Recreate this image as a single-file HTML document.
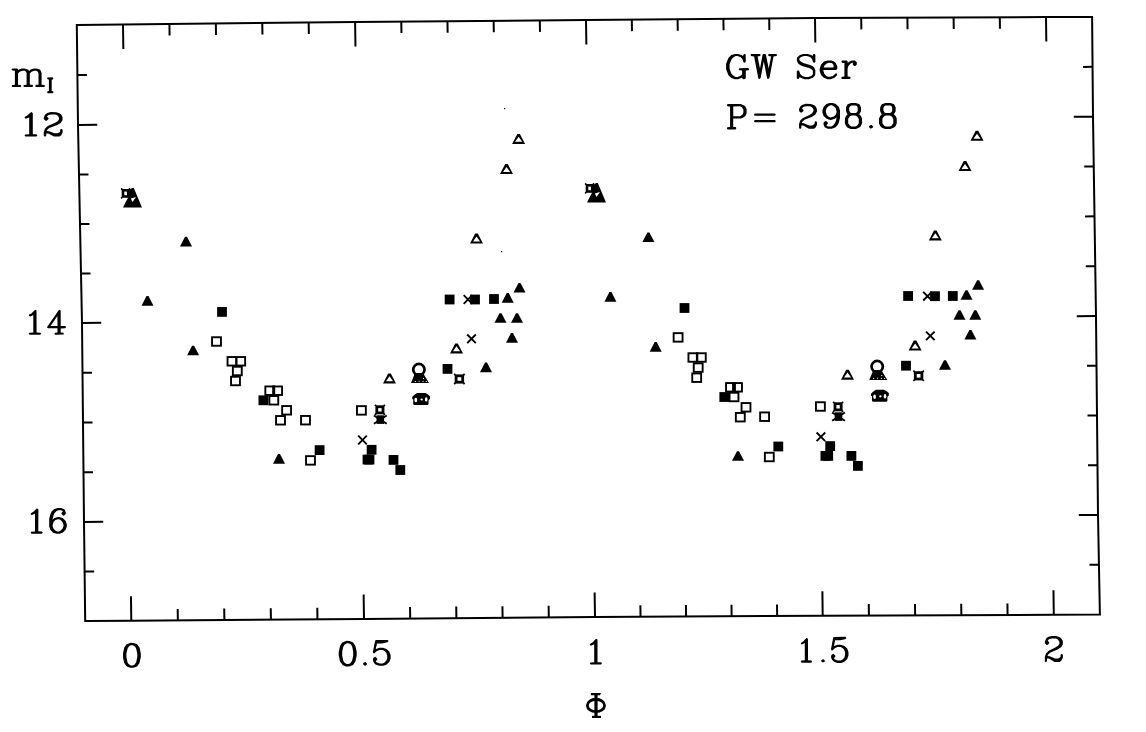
<!DOCTYPE html>
<html><head><meta charset="utf-8"><title>GW Ser light curve</title>
<style>
html,body{margin:0;padding:0;background:#fff;}
body{width:1146px;height:732px;overflow:hidden;font-family:"Liberation Serif",serif;}
svg{display:block;}
</style></head><body>
<svg width="1146" height="732" viewBox="0 0 1146 732">
<rect width="1146" height="732" fill="#fff"/>
<polygon points="76.80,25.00 123.00,24.60 355.10,21.90 586.00,20.00 815.00,18.10 1046.00,17.00 1092.10,17.00 1093.00,116.70 1096.00,316.00 1098.00,514.90 1099.90,614.50 1053.80,614.80 822.70,615.80 595.00,616.90 364.00,618.90 131.30,620.80 85.20,621.00 84.00,522.00 82.00,323.00 80.00,224.00 78.00,125.00" fill="none" stroke="#000" stroke-width="2.0" stroke-linejoin="miter"/>
<path d="M131.30 620.80L130.96 596.30 M123.00 24.60L123.34 49.10 M177.84 620.42L177.68 608.92 M169.42 24.06L169.58 35.56 M224.38 620.04L224.22 608.54 M215.84 23.52L216.00 35.02 M270.92 619.66L270.75 608.16 M262.26 22.98L262.43 34.48 M317.46 619.28L317.29 607.78 M308.68 22.44L308.85 33.94 M364.00 618.90L363.63 594.40 M355.10 21.90L355.47 46.40 M410.20 618.50L410.03 607.00 M401.28 21.52L401.45 33.02 M456.40 618.10L456.23 606.60 M447.46 21.14L447.63 32.64 M502.60 617.70L502.43 606.20 M493.64 20.76L493.81 32.26 M548.80 617.30L548.63 605.80 M539.82 20.38L539.99 31.88 M595.00 616.90L594.63 592.40 M586.00 20.00L586.37 44.50 M640.54 616.68L640.37 605.18 M631.80 19.62L631.97 31.12 M686.08 616.46L685.92 604.96 M677.60 19.24L677.76 30.74 M731.62 616.24L731.46 604.74 M723.40 18.86L723.56 30.36 M777.16 616.02L777.01 604.52 M769.20 18.48L769.35 29.98 M822.70 615.80L822.38 591.30 M815.00 18.10L815.32 42.60 M868.92 615.60L868.77 604.10 M861.20 17.88L861.35 29.38 M915.14 615.40L914.99 603.90 M907.40 17.66L907.55 29.16 M961.36 615.20L961.21 603.70 M953.60 17.44L953.75 28.94 M1007.58 615.00L1007.43 603.50 M999.80 17.22L999.95 28.72 M1053.80 614.80L1053.48 590.30 M1046.00 17.00L1046.32 41.50 M77.40 75.00L86.90 74.92 M1092.55 66.85L1083.05 66.93 M78.00 125.00L97.20 124.84 M1093.00 116.70L1073.80 116.86 M79.00 174.50L88.50 174.43 M1093.75 166.53L1084.25 166.60 M80.00 224.00L89.50 223.93 M1094.50 216.35L1085.00 216.42 M81.00 273.50L90.50 273.43 M1095.25 266.18L1085.75 266.24 M82.00 323.00L101.20 322.87 M1096.00 316.00L1076.80 316.13 M82.50 372.75L92.00 372.68 M1096.50 365.73L1087.00 365.79 M83.00 422.50L92.50 422.43 M1097.00 415.45L1087.50 415.52 M83.50 472.25L93.00 472.18 M1097.50 465.17L1088.00 465.24 M84.00 522.00L103.20 521.87 M1098.00 514.90L1078.80 515.03 M84.60 571.50L94.10 571.44 M1098.95 564.70L1089.45 564.76" stroke="#000" stroke-width="2" fill="none"/>
<path fill-rule="evenodd" d="M31.6 112.1L30.6 112.5L27.3 115.6L25.3 116.4L24.6 117.2L24.7 118.1L25.7 118.7L29.2 117.4L29.2 134.2L25.1 134.5L24.6 135.7L25.5 136.6L36.4 136.6L37.4 135.5L36.4 134.3L32.8 134.2L32.8 113.2Z"/>
<path fill-rule="evenodd" d="M47.3 113.1L45.2 114.6L43.7 117.4L43.8 119.1L45.6 120.7L46.7 120.7L48.5 119.1L48.5 118.1L47.1 116.8L47.1 116.2L48.1 115.3L50.8 114.5L55.2 114.5L56.8 115.1L58.0 116.1L59.0 117.8L59.0 119.3L57.7 121.2L54.6 123.0L47.8 126.0L45.1 128.5L43.7 132.2L43.8 136.0L44.7 136.6L45.6 136.5L46.3 135.5L46.3 133.8L46.7 133.5L48.2 133.5L54.0 136.6L59.4 136.6L61.2 135.2L62.5 132.8L62.7 130.1L61.8 129.1L61.3 129.0L60.2 129.6L60.1 131.9L57.7 133.2L54.4 133.2L49.2 131.2L47.0 131.1L46.9 130.7L47.3 129.7L49.3 127.9L57.3 124.9L60.6 122.9L62.5 120.2L62.5 116.9L61.2 114.6L59.6 113.3L56.2 112.2L50.8 112.1Z"/>
<path fill-rule="evenodd" d="M35.5 309.8L34.6 310.2L31.4 313.4L29.5 314.3L28.9 315.1L29.4 316.3L30.5 316.4L33.3 315.0L33.3 332.4L29.5 332.7L29.0 333.0L28.9 333.9L29.8 334.8L40.0 334.8L40.9 334.2L40.9 333.2L40.4 332.7L36.6 332.4L36.5 310.4Z"/>
<path fill-rule="evenodd" d="M59.8 309.8L58.7 310.3L47.1 327.1L47.2 327.7L48.1 328.3L57.4 328.3L57.5 332.4L55.0 332.7L54.4 333.9L55.2 334.8L63.5 334.5L63.8 333.9L63.5 332.8L60.7 332.4L60.7 328.4L65.0 328.3L65.9 327.7L65.9 326.7L65.2 326.1L60.7 326.0L60.7 310.7ZM57.4 316.1L57.5 326.0L50.6 326.1Z"/>
<path fill-rule="evenodd" d="M37.3 508.4L36.7 508.5L33.5 511.8L31.3 512.9L30.7 513.7L30.8 514.5L31.7 515.1L35.0 513.7L35.0 531.4L31.1 531.8L30.7 532.9L31.6 533.8L41.8 533.8L42.7 532.8L42.6 532.2L41.8 531.5L38.3 531.3L38.4 509.5Z"/>
<path fill-rule="evenodd" d="M61.4 507.9L57.9 507.9L54.2 509.1L51.6 511.6L50.3 514.4L49.2 518.7L49.2 526.3L50.3 529.7L53.2 532.7L56.5 533.8L59.6 533.8L63.0 532.5L65.7 529.8L66.9 525.9L66.9 524.7L65.7 521.0L62.6 518.0L59.2 516.9L58.0 516.9L54.6 518.0L52.5 519.6L53.5 515.4L54.4 513.2L56.6 511.0L58.1 510.3L61.1 510.3L62.7 511.1L62.9 511.5L61.4 513.0L61.3 513.6L62.9 515.6L64.0 515.7L65.7 514.1L65.8 512.4L64.6 509.6ZM58.0 519.2L59.0 519.2L60.8 520.2L62.5 522.0L63.5 524.8L63.5 525.9L62.6 528.6L60.5 530.7L58.8 531.5L57.2 531.5L55.3 530.5L53.5 528.7L52.5 525.7L53.5 522.1L55.4 520.1Z"/>
<path fill-rule="evenodd" d="M11.7 69.0L11.6 69.7L12.2 70.6L14.9 70.8L14.9 84.7L12.2 84.9L11.6 86.0L12.4 87.0L20.5 87.0L21.1 86.4L21.1 85.4L20.7 84.9L18.0 84.7L18.0 73.5L19.7 71.7L22.4 70.7L24.3 70.7L25.8 71.6L26.6 73.1L26.6 84.7L23.9 84.9L23.5 85.5L23.5 86.2L23.9 86.9L32.2 87.0L32.9 86.5L33.0 85.6L32.7 85.0L29.8 84.5L29.8 73.6L31.6 71.7L34.1 70.7L36.1 70.7L37.5 71.4L38.5 73.3L38.5 84.7L36.0 84.8L35.4 85.4L35.4 86.4L36.0 87.0L44.1 87.0L44.8 86.4L44.9 85.8L44.3 84.9L41.6 84.7L41.6 72.9L40.5 70.2L39.8 69.6L36.4 68.4L34.1 68.4L30.7 69.6L29.1 71.1L28.2 69.7L24.6 68.4L21.8 68.5L18.8 69.6L18.1 70.2L17.9 69.0L17.0 68.4L12.6 68.4Z"/>
<path fill-rule="evenodd" d="M47.7 77.4L47.2 77.9L47.2 79.0L48.9 79.8L48.9 90.9L47.7 91.2L47.2 91.7L47.2 92.7L47.9 93.3L52.6 93.3L53.3 92.8L53.4 91.9L53.0 91.3L51.7 90.9L51.7 79.8L52.8 79.5L53.4 78.2L52.5 77.3Z"/>
<path fill-rule="evenodd" d="M130.6 642.8L126.4 644.4L124.3 647.6L123.0 653.2L123.0 657.5L124.1 662.8L126.3 666.0L127.3 666.8L130.2 667.8L133.4 667.8L137.1 666.4L139.4 663.2L140.8 657.2L140.8 653.4L139.5 647.6L137.5 644.7L136.6 643.9L133.5 642.9ZM131.0 645.2L132.8 645.2L135.2 646.7L136.3 648.9L137.3 653.9L137.3 656.8L136.2 662.2L134.4 664.7L132.6 665.5L130.7 665.4L128.3 663.7L127.4 661.9L126.4 657.1L126.4 653.5L127.6 648.4L129.2 646.0Z"/>
<path fill-rule="evenodd" d="M346.6 640.8L342.3 642.4L340.1 645.8L338.7 652.0L338.7 655.3L339.9 661.3L342.8 665.3L346.1 666.4L349.3 666.4L353.1 664.9L355.4 661.4L356.7 655.6L356.7 651.7L355.4 645.9L353.3 642.7L352.3 641.9L349.3 640.9ZM346.8 643.2L348.6 643.2L350.3 644.0L351.3 645.0L352.2 646.8L353.2 651.6L353.2 655.7L352.1 660.8L350.3 663.3L348.6 664.1L346.6 664.0L344.3 662.5L343.2 660.4L342.2 655.6L342.2 651.7L343.2 646.9L344.2 644.9Z"/>
<path fill-rule="evenodd" d="M364.9 662.0L363.2 663.2L362.9 664.0L364.3 665.6L365.2 665.8L366.9 664.6L367.1 663.7L365.6 662.1Z"/>
<path fill-rule="evenodd" d="M375.7 640.0L375.0 641.3L372.9 651.8L373.0 652.8L374.2 653.5L376.9 651.0L379.5 650.1L382.7 650.1L384.5 651.1L386.3 652.8L387.2 655.7L387.2 657.9L386.4 660.6L384.3 662.7L382.6 663.5L379.8 663.5L376.8 662.5L375.7 661.2L377.2 659.7L377.3 658.7L375.5 656.8L374.5 656.9L373.0 658.4L373.0 660.8L374.1 663.0L375.5 664.4L379.2 665.8L383.3 665.8L386.3 664.8L389.5 661.8L390.6 658.6L390.7 655.6L389.3 651.6L386.6 649.0L383.0 647.7L379.5 647.7L376.0 649.0L375.8 648.6L377.1 643.4L382.0 643.4L387.5 642.3L388.3 641.6L388.3 640.5L387.5 639.9Z"/>
<path fill-rule="evenodd" d="M596.8 639.0L595.8 639.1L592.5 642.5L590.4 643.5L589.8 644.5L589.9 645.1L591.0 645.7L594.2 644.2L594.2 662.2L590.4 662.5L589.8 663.5L590.7 664.6L601.0 664.6L601.9 663.6L601.8 663.0L601.0 662.3L597.5 662.2L597.5 639.7Z"/>
<path fill-rule="evenodd" d="M807.0 637.9L806.3 638.0L803.2 641.4L800.9 642.9L801.0 644.0L801.8 644.5L804.8 643.1L804.8 660.3L801.4 660.6L800.8 661.6L801.6 662.7L811.1 662.7L811.9 661.9L811.9 661.2L811.4 660.6L808.0 660.3L808.0 638.9Z"/>
<path fill-rule="evenodd" d="M822.9 659.2L821.3 660.2L821.0 660.9L822.3 662.3L823.2 662.5L824.8 661.5L825.0 660.7L823.5 659.3Z"/>
<path fill-rule="evenodd" d="M833.9 636.9L833.2 637.8L831.0 649.0L831.1 649.8L831.8 650.5L832.4 650.5L835.1 648.0L837.6 647.1L840.7 647.1L842.5 648.1L844.2 649.8L845.1 652.6L845.1 655.1L844.3 657.7L842.3 659.8L840.6 660.6L837.7 660.6L835.0 659.6L833.9 658.2L835.3 656.7L835.3 655.5L833.3 653.8L832.7 653.9L831.1 655.5L831.1 657.8L832.2 660.0L833.8 661.6L837.1 662.9L841.3 662.9L844.4 661.8L847.3 658.9L848.5 655.3L848.5 652.3L847.2 648.6L844.5 646.0L840.9 644.7L837.5 644.7L834.0 646.0L835.1 640.3L840.2 640.3L845.0 639.3L846.2 638.5L846.2 637.4L845.2 636.8Z"/>
<path fill-rule="evenodd" d="M1047.9 637.1L1046.2 638.6L1044.8 641.5L1044.9 643.3L1046.5 645.0L1047.9 644.7L1049.3 643.1L1049.0 642.0L1047.7 640.7L1048.9 639.2L1051.5 638.4L1055.9 638.4L1057.6 639.2L1059.4 641.8L1059.4 643.7L1058.3 645.6L1055.3 647.6L1048.7 650.8L1046.0 653.4L1044.8 656.9L1044.9 661.4L1045.7 661.9L1046.5 661.8L1047.0 661.1L1047.0 659.0L1047.5 658.5L1048.9 658.5L1054.6 661.9L1059.8 661.9L1061.4 660.5L1062.9 657.5L1062.9 655.0L1062.0 654.0L1061.4 654.0L1060.6 654.7L1060.5 656.9L1058.0 658.5L1055.1 658.5L1049.8 656.3L1047.5 656.0L1048.0 654.7L1050.0 652.7L1057.5 649.6L1061.1 647.2L1062.8 644.5L1062.8 641.1L1061.6 638.9L1060.3 637.5L1056.3 636.0L1051.5 636.0Z"/>
<ellipse cx="595.95" cy="705.45" rx="8.6" ry="6.2" fill="none" stroke="#000" stroke-width="2.8"/>
<rect x="594.4" y="693.5" width="3.2" height="24"/>
<path d="M590.9 693L601 693L600 695.2L590.9 695.2Z"/>
<rect x="592" y="715.8" width="9" height="2.2"/>
<path fill-rule="evenodd" d="M731.3 55.1L728.4 57.9L726.1 63.7L726.1 69.3L728.4 75.2L731.4 78.1L734.8 79.2L738.1 79.2L741.9 77.8L743.0 79.2L745.1 79.1L745.8 78.1L745.8 70.6L748.5 70.3L749.2 69.5L749.0 68.7L748.0 68.1L739.3 68.3L738.7 69.5L739.4 70.3L742.1 70.6L742.1 74.3L740.2 76.1L737.4 76.9L735.7 76.9L733.8 76.1L731.7 74.1L730.8 72.3L729.6 69.0L729.6 64.1L731.6 59.3L733.5 57.3L735.7 56.1L737.3 56.1L740.4 57.1L742.4 59.0L743.4 62.1L744.2 62.7L745.1 62.6L745.8 61.6L745.7 54.5L744.7 53.9L744.0 54.0L742.8 56.1L741.5 55.0L738.1 53.9L735.0 53.9Z"/>
<path fill-rule="evenodd" d="M751.2 54.0L750.6 54.6L750.9 55.9L754.1 56.5L758.3 78.3L759.1 78.9L759.7 78.9L760.6 78.0L763.8 61.6L767.1 78.3L767.8 78.9L768.8 78.8L769.5 77.8L773.5 56.4L776.4 56.1L777.1 55.3L776.9 54.5L775.9 53.9L769.2 53.9L768.2 54.6L768.2 55.5L768.8 56.1L771.1 56.4L768.7 68.6L765.9 54.5L764.9 53.9L763.3 54.0L762.6 54.8L760.0 68.4L757.6 56.4L760.1 56.0L760.6 55.1L760.4 54.4L759.5 53.9Z"/>
<path fill-rule="evenodd" d="M814.7 54.0L813.5 54.0L812.4 56.1L811.3 55.1L807.7 53.9L803.3 53.9L799.9 55.0L796.9 57.8L796.9 61.1L798.2 63.5L799.4 64.6L802.0 66.0L809.0 68.1L811.1 69.1L812.9 70.8L812.9 74.3L811.2 75.9L808.2 76.9L805.2 76.9L802.3 76.1L800.2 74.1L799.2 71.0L798.2 70.3L797.5 70.5L796.8 71.5L796.8 78.2L797.5 79.1L798.6 79.1L799.8 76.9L800.6 77.8L804.5 79.2L808.8 79.2L812.8 77.8L815.2 75.3L815.4 70.2L814.1 67.6L812.5 66.1L809.9 64.9L803.3 62.9L801.0 61.7L799.3 60.1L799.3 58.8L801.0 57.1L804.1 56.1L806.9 56.1L810.0 57.1L812.0 59.0L813.0 62.1L813.8 62.7L814.5 62.7L815.4 61.7L815.4 55.0Z"/>
<path fill-rule="evenodd" d="M827.6 60.4L824.0 61.6L821.1 64.4L819.7 68.6L819.7 71.0L821.0 75.1L823.8 77.8L827.4 79.2L830.7 79.2L834.5 77.7L837.0 75.2L837.0 73.7L836.1 73.2L835.6 73.4L832.8 75.9L830.1 76.8L828.2 76.8L826.4 75.9L824.3 73.7L823.4 71.1L823.4 69.9L836.1 69.9L837.3 68.7L837.3 66.2L835.7 63.0L834.1 61.6L831.5 60.4ZM823.9 66.9L824.3 65.8L826.4 63.7L828.4 62.8L831.2 62.9L832.5 63.6L833.6 65.3L833.5 67.4L824.0 67.4Z"/>
<path fill-rule="evenodd" d="M842.2 60.4L841.5 60.9L841.4 62.1L842.5 62.9L844.4 63.0L844.4 76.4L841.9 76.7L841.4 77.2L841.4 78.2L842.1 78.9L849.9 78.9L850.7 77.7L850.1 76.7L847.6 76.4L847.6 68.7L848.4 65.9L850.4 63.7L852.1 62.7L852.9 62.7L852.8 64.6L854.1 66.0L855.3 66.1L856.8 64.4L856.8 62.2L854.9 60.4L851.5 60.4L849.1 61.7L847.7 63.1L847.6 61.2L846.8 60.4Z"/>
<path fill-rule="evenodd" d="M727.8 104.1L727.0 104.7L727.0 105.7L728.1 106.5L730.1 106.6L730.1 127.0L727.5 127.3L727.0 127.8L727.0 128.8L727.7 129.4L735.4 129.4L736.3 128.6L736.1 127.6L735.4 127.1L733.2 127.0L733.2 118.5L740.8 118.4L743.9 117.3L745.5 115.7L746.6 113.4L746.6 109.1L745.3 106.6L744.3 105.6L740.7 104.1ZM733.2 106.5L740.0 106.3L741.9 107.3L743.4 109.8L743.4 112.7L742.6 114.4L740.1 116.2L733.3 116.2Z"/>
<path fill-rule="evenodd" d="M754.0 121.1L754.1 121.7L754.9 122.3L775.0 122.3L775.9 121.2L775.0 120.1L754.9 120.1ZM754.0 114.6L754.1 115.2L754.9 115.8L774.9 115.8L775.9 114.7L775.0 113.6L754.9 113.6Z"/>
<path fill-rule="evenodd" d="M802.1 104.9L800.4 106.3L799.0 109.0L799.1 111.0L800.5 112.4L801.8 112.5L803.5 110.9L803.5 109.9L802.0 108.4L803.1 107.0L805.7 106.2L810.0 106.2L811.6 106.9L812.6 107.9L813.5 109.6L813.5 111.1L812.1 113.2L809.5 114.9L803.0 118.0L800.4 120.3L799.0 123.9L799.1 128.3L799.9 128.8L800.8 128.7L801.3 127.9L801.3 126.0L801.8 125.5L803.1 125.5L808.8 128.8L814.1 128.7L815.6 127.4L817.0 124.7L817.0 122.2L816.2 121.2L815.3 121.2L814.7 121.8L814.5 124.1L812.2 125.4L809.1 125.4L804.0 123.3L801.8 123.1L802.2 121.9L804.4 119.8L811.6 117.0L815.2 114.7L817.0 111.6L816.8 108.8L815.7 106.5L814.3 105.2L810.8 103.9L805.7 103.8Z"/>
<path fill-rule="evenodd" d="M832.7 103.0L829.7 103.0L826.4 104.1L823.6 106.9L822.4 110.3L822.4 112.5L823.6 116.0L826.7 118.8L830.1 119.9L831.7 119.8L834.9 118.7L836.7 117.2L835.7 121.4L834.7 123.5L832.7 125.7L831.2 126.4L828.1 126.5L826.4 125.5L827.9 123.4L827.8 122.5L826.4 121.2L825.5 120.9L823.6 122.5L823.5 124.5L824.7 127.2L827.6 128.8L831.7 128.8L835.2 127.4L837.7 124.9L838.8 122.7L840.0 117.9L840.0 110.5L838.9 107.1L835.9 104.1ZM831.9 105.2L834.0 106.4L835.6 108.0L836.7 111.7L835.7 114.7L833.9 116.6L830.3 117.6L828.6 116.7L826.7 114.7L825.7 111.1L826.7 108.1L828.5 106.2L830.5 105.2Z"/>
<path fill-rule="evenodd" d="M851.1 103.0L847.6 104.2L846.1 106.9L846.0 111.1L847.0 113.6L847.7 114.3L846.2 115.7L844.9 118.6L844.9 123.5L846.1 126.1L847.7 127.8L850.8 128.9L856.0 128.9L859.8 127.3L860.9 126.0L862.1 123.3L862.0 118.2L860.9 115.9L859.2 114.3L860.9 111.5L861.0 107.5L859.8 104.7L859.0 104.1L855.8 103.0ZM851.5 115.4L855.4 115.4L857.2 116.4L858.8 118.9L858.8 123.2L857.0 125.8L855.3 126.6L851.3 126.5L849.8 125.6L848.2 123.3L848.2 118.8L849.9 116.3ZM849.9 106.4L851.4 105.4L855.4 105.4L856.9 106.1L857.7 107.7L857.7 110.7L857.0 112.2L855.6 113.1L851.4 113.1L850.2 112.5L849.2 110.6L849.2 107.9Z"/>
<path fill-rule="evenodd" d="M870.9 125.0L869.2 126.1L868.9 126.9L870.3 128.4L871.2 128.6L872.9 127.5L873.1 126.6L871.6 125.1Z"/>
<path fill-rule="evenodd" d="M885.4 103.0L881.8 104.2L880.2 106.9L880.1 111.1L881.2 113.6L881.9 114.3L880.3 115.7L879.0 118.6L879.0 123.5L880.2 126.1L881.9 127.8L885.1 128.9L890.5 128.9L894.4 127.3L895.6 126.0L896.8 123.3L896.7 118.2L895.6 115.9L893.8 114.3L895.6 111.5L895.7 107.5L894.4 104.7L893.6 104.1L890.3 103.0ZM885.9 115.4L889.9 115.4L891.8 116.4L893.3 118.9L893.3 123.2L891.5 125.8L889.8 126.6L885.6 126.5L884.0 125.6L882.4 123.3L882.4 118.8L884.1 116.3ZM884.1 106.4L885.7 105.4L889.9 105.4L891.4 106.1L892.2 107.7L892.2 110.7L891.5 112.2L890.0 113.1L885.7 113.1L884.5 112.5L883.4 110.6L883.4 107.9Z"/>
<g fill="#000">
<path d="M180.00 246.40L192.00 246.40L187.00 236.80L185.00 236.80Z"/>
<path d="M141.50 305.70L153.50 305.70L148.50 296.10L146.50 296.10Z"/>
<path d="M187.10 355.30L199.10 355.30L194.10 345.70L192.10 345.70Z"/>
<path d="M273.00 463.70L285.00 463.70L280.00 454.10L278.00 454.10Z"/>
<path d="M480.00 372.20L492.00 372.20L487.00 362.60L485.00 362.60Z"/>
<path d="M501.70 302.70L513.70 302.70L508.70 293.10L506.70 293.10Z"/>
<path d="M513.50 292.60L525.50 292.60L520.50 283.00L518.50 283.00Z"/>
<path d="M494.50 322.80L506.50 322.80L501.50 313.20L499.50 313.20Z"/>
<path d="M511.00 322.80L523.00 322.80L518.00 313.20L516.00 313.20Z"/>
<path d="M506.00 342.70L518.00 342.70L513.00 333.10L511.00 333.10Z"/>
<path d="M642.40 242.10L654.40 242.10L649.40 232.50L647.40 232.50Z"/>
<path d="M604.40 301.70L616.40 301.70L611.40 292.10L609.40 292.10Z"/>
<path d="M649.70 351.70L661.70 351.70L656.70 342.10L654.70 342.10Z"/>
<path d="M732.00 460.80L744.00 460.80L739.00 451.20L737.00 451.20Z"/>
<path d="M939.00 369.80L951.00 369.80L946.00 360.20L944.00 360.20Z"/>
<path d="M960.50 299.80L972.50 299.80L967.50 290.20L965.50 290.20Z"/>
<path d="M972.10 289.80L984.10 289.80L979.10 280.20L977.10 280.20Z"/>
<path d="M953.50 319.80L965.50 319.80L960.50 310.20L958.50 310.20Z"/>
<path d="M969.30 319.80L981.30 319.80L976.30 310.20L974.30 310.20Z"/>
<path d="M964.40 339.60L976.40 339.60L971.40 330.00L969.40 330.00Z"/>
<path fill-rule="evenodd" d="M383.00 383.40L396.00 383.40L390.80 373.40L388.20 373.40Z M386.00 381.30L393.10 381.30L389.50 376.30Z"/>
<path fill-rule="evenodd" d="M450.00 353.40L463.00 353.40L457.80 343.40L455.20 343.40Z M453.00 351.30L460.10 351.30L456.50 346.30Z"/>
<path fill-rule="evenodd" d="M470.00 243.60L483.00 243.60L477.80 233.60L475.20 233.60Z M473.00 241.50L480.10 241.50L476.50 236.50Z"/>
<path fill-rule="evenodd" d="M500.00 174.00L513.00 174.00L507.80 164.00L505.20 164.00Z M503.00 171.90L510.10 171.90L506.50 166.90Z"/>
<path fill-rule="evenodd" d="M512.10 143.90L525.10 143.90L519.90 133.90L517.30 133.90Z M515.10 141.80L522.20 141.80L518.60 136.80Z"/>
<path fill-rule="evenodd" d="M841.00 379.70L854.00 379.70L848.80 369.70L846.20 369.70Z M844.00 377.60L851.10 377.60L847.50 372.60Z"/>
<path fill-rule="evenodd" d="M908.60 350.50L921.60 350.50L916.40 340.50L913.80 340.50Z M911.60 348.40L918.70 348.40L915.10 343.40Z"/>
<path fill-rule="evenodd" d="M928.80 240.40L941.80 240.40L936.60 230.40L934.00 230.40Z M931.80 238.30L938.90 238.30L935.30 233.30Z"/>
<path fill-rule="evenodd" d="M958.50 171.00L971.50 171.00L966.30 161.00L963.70 161.00Z M961.50 168.90L968.60 168.90L965.00 163.90Z"/>
<path fill-rule="evenodd" d="M970.50 140.80L983.50 140.80L978.30 130.80L975.70 130.80Z M973.50 138.70L980.60 138.70L977.00 133.70Z"/>
<rect x="217.10" y="307.00" width="9.80" height="9.80"/>
<rect x="258.50" y="395.40" width="9.80" height="9.80"/>
<rect x="314.70" y="445.20" width="9.80" height="9.80"/>
<rect x="366.70" y="444.90" width="9.80" height="9.80"/>
<rect x="362.60" y="454.70" width="9.80" height="9.80"/>
<rect x="364.60" y="454.70" width="9.80" height="9.80"/>
<rect x="388.60" y="455.00" width="9.80" height="9.80"/>
<rect x="395.40" y="465.10" width="9.80" height="9.80"/>
<rect x="442.60" y="364.00" width="9.80" height="9.80"/>
<rect x="444.70" y="294.60" width="9.80" height="9.80"/>
<rect x="470.10" y="294.60" width="9.80" height="9.80"/>
<rect x="489.10" y="294.10" width="9.80" height="9.80"/>
<rect x="679.60" y="303.10" width="9.80" height="9.80"/>
<rect x="719.40" y="392.10" width="9.80" height="9.80"/>
<rect x="773.40" y="441.60" width="9.80" height="9.80"/>
<rect x="825.30" y="441.20" width="9.80" height="9.80"/>
<rect x="820.50" y="451.00" width="9.80" height="9.80"/>
<rect x="823.30" y="451.00" width="9.80" height="9.80"/>
<rect x="846.50" y="451.00" width="9.80" height="9.80"/>
<rect x="853.00" y="461.00" width="9.80" height="9.80"/>
<rect x="901.10" y="360.80" width="9.80" height="9.80"/>
<rect x="903.20" y="291.10" width="9.80" height="9.80"/>
<rect x="930.10" y="291.30" width="9.80" height="9.80"/>
<rect x="947.90" y="291.10" width="9.80" height="9.80"/>
<rect x="212.05" y="337.25" width="8.90" height="8.50" fill="none" stroke="#000" stroke-width="1.90"/>
<rect x="227.55" y="357.05" width="8.90" height="8.50" fill="none" stroke="#000" stroke-width="1.90"/>
<rect x="236.25" y="357.05" width="8.90" height="8.50" fill="none" stroke="#000" stroke-width="1.90"/>
<rect x="232.85" y="366.75" width="8.90" height="8.50" fill="none" stroke="#000" stroke-width="1.90"/>
<rect x="231.05" y="376.75" width="8.90" height="8.50" fill="none" stroke="#000" stroke-width="1.90"/>
<rect x="265.35" y="386.45" width="8.90" height="8.50" fill="none" stroke="#000" stroke-width="1.90"/>
<rect x="273.15" y="386.45" width="8.90" height="8.50" fill="none" stroke="#000" stroke-width="1.90"/>
<rect x="269.35" y="396.05" width="8.90" height="8.50" fill="none" stroke="#000" stroke-width="1.90"/>
<rect x="282.15" y="406.05" width="8.90" height="8.50" fill="none" stroke="#000" stroke-width="1.90"/>
<rect x="276.05" y="416.05" width="8.90" height="8.50" fill="none" stroke="#000" stroke-width="1.90"/>
<rect x="301.05" y="415.95" width="8.90" height="8.50" fill="none" stroke="#000" stroke-width="1.90"/>
<rect x="306.05" y="456.15" width="8.90" height="8.50" fill="none" stroke="#000" stroke-width="1.90"/>
<rect x="356.95" y="406.15" width="8.90" height="8.50" fill="none" stroke="#000" stroke-width="1.90"/>
<rect x="673.65" y="333.15" width="8.90" height="8.50" fill="none" stroke="#000" stroke-width="1.90"/>
<rect x="688.45" y="353.25" width="8.90" height="8.50" fill="none" stroke="#000" stroke-width="1.90"/>
<rect x="696.85" y="353.25" width="8.90" height="8.50" fill="none" stroke="#000" stroke-width="1.90"/>
<rect x="693.75" y="363.35" width="8.90" height="8.50" fill="none" stroke="#000" stroke-width="1.90"/>
<rect x="692.25" y="373.45" width="8.90" height="8.50" fill="none" stroke="#000" stroke-width="1.90"/>
<rect x="726.05" y="383.05" width="8.90" height="8.50" fill="none" stroke="#000" stroke-width="1.90"/>
<rect x="733.05" y="383.05" width="8.90" height="8.50" fill="none" stroke="#000" stroke-width="1.90"/>
<rect x="729.55" y="392.75" width="8.90" height="8.50" fill="none" stroke="#000" stroke-width="1.90"/>
<rect x="741.55" y="403.05" width="8.90" height="8.50" fill="none" stroke="#000" stroke-width="1.90"/>
<rect x="735.85" y="412.95" width="8.90" height="8.50" fill="none" stroke="#000" stroke-width="1.90"/>
<rect x="760.15" y="412.45" width="8.90" height="8.50" fill="none" stroke="#000" stroke-width="1.90"/>
<rect x="764.85" y="452.75" width="8.90" height="8.50" fill="none" stroke="#000" stroke-width="1.90"/>
<rect x="815.95" y="402.25" width="8.90" height="8.50" fill="none" stroke="#000" stroke-width="1.90"/>
<path d="M358.20 435.70L366.80 444.30M358.20 444.30L366.80 435.70" stroke="#000" stroke-width="1.90" fill="none"/>
<path d="M467.20 334.50L475.80 343.10M467.20 343.10L475.80 334.50" stroke="#000" stroke-width="1.90" fill="none"/>
<path d="M463.70 295.20L472.30 303.80M463.70 303.80L472.30 295.20" stroke="#000" stroke-width="1.90" fill="none"/>
<path d="M816.60 432.50L825.20 441.10M816.60 441.10L825.20 432.50" stroke="#000" stroke-width="1.90" fill="none"/>
<path d="M926.00 331.60L934.60 340.20M926.00 340.20L934.60 331.60" stroke="#000" stroke-width="1.90" fill="none"/>
<path d="M923.20 291.90L931.80 300.50M923.20 300.50L931.80 291.90" stroke="#000" stroke-width="1.90" fill="none"/>
<path d="M123.00 207.60 L142.00 207.60 L133.80 188.00 L132.20 188.00 L129.00 190.00 L127.60 193.50 L128.20 197.50 L125.50 202.50 Z"/>
<path fill="#fff" d="M130.80 198.40 L136.00 197.00 L132.60 202.00 Z"/>
<rect x="123.00" y="190.30" width="5.20" height="6.20" fill="none" stroke="#000" stroke-width="2.60"/>
<path d="M122.30 189.60L121.10 188.40M128.90 189.60L130.10 188.40M122.30 197.20L121.10 198.40M128.90 197.20L130.10 198.40" stroke="#000" stroke-width="1.50" fill="none"/>
<rect x="376.80" y="406.70" width="6.20" height="6.20" fill="none" stroke="#000" stroke-width="2.80"/>
<path d="M376.00 405.90L374.90 404.80M383.80 405.90L384.90 404.80M376.00 413.70L374.90 414.80M383.80 413.70L384.90 414.80" stroke="#000" stroke-width="1.80" fill="none"/>
<rect x="376.50" y="415.30" width="7.60" height="8.60"/>
<path d="M373.90 415.50L386.70 423.70M373.90 423.70L386.70 415.50" stroke="#000" stroke-width="1.90" fill="none"/>
<rect x="456.10" y="375.80" width="6.60" height="6.40" fill="none" stroke="#000" stroke-width="2.80"/>
<path d="M455.30 375.00L454.20 373.90M463.50 375.00L464.60 373.90M455.30 383.00L454.20 384.10M463.50 383.00L464.60 384.10" stroke="#000" stroke-width="1.80" fill="none"/>
<circle cx="418.90" cy="369.60" r="5.65" fill="none" stroke="#000" stroke-width="2.70"/>
<path d="M411.00 383.00 L429.00 383.00 L423.00 373.00 L415.00 373.00 Z"/>
<rect fill="#fff" x="414.80" y="381.00" width="1" height="1"/>
<rect fill="#fff" x="418.60" y="380.80" width="1" height="1"/>
<rect fill="#fff" x="422.60" y="380.90" width="1" height="1"/>
<rect fill="#fff" x="425.80" y="381.00" width="1" height="1"/>
<rect fill="#fff" x="423.00" y="378.00" width="1" height="1"/>
<path d="M417.00 392.90 L425.20 392.90 L427.60 394.20 L430.00 396.30 L430.00 399.00 L428.60 400.00 L428.60 404.00 L427.90 405.00 L413.90 405.00 L413.20 404.00 L413.20 399.50 L412.20 399.00 L412.20 397.00 L413.90 395.30 Z"/>
<ellipse fill="#fff" cx="415.80" cy="400.00" rx="1.40" ry="2.20"/>
<ellipse fill="#fff" cx="426.20" cy="399.40" rx="1.30" ry="2.20"/>
<ellipse fill="#fff" cx="421.60" cy="399.50" rx="1.20" ry="1.10"/>
<path d="M587.00 202.60 L606.00 202.60 L597.80 183.00 L596.20 183.00 L593.00 185.00 L591.60 188.50 L592.20 192.50 L589.50 197.50 Z"/>
<path fill="#fff" d="M594.80 193.40 L600.00 192.00 L596.60 197.00 Z"/>
<rect x="587.00" y="185.30" width="5.20" height="6.20" fill="none" stroke="#000" stroke-width="2.60"/>
<path d="M586.30 184.60L585.10 183.40M592.90 184.60L594.10 183.40M586.30 192.20L585.10 193.40M592.90 192.20L594.10 193.40" stroke="#000" stroke-width="1.50" fill="none"/>
<rect x="835.00" y="403.70" width="6.20" height="6.20" fill="none" stroke="#000" stroke-width="2.80"/>
<path d="M834.20 402.90L833.10 401.80M842.00 402.90L843.10 401.80M834.20 410.70L833.10 411.80M842.00 410.70L843.10 411.80" stroke="#000" stroke-width="1.80" fill="none"/>
<rect x="834.70" y="412.30" width="7.60" height="8.60"/>
<path d="M832.10 412.50L844.90 420.70M832.10 420.70L844.90 412.50" stroke="#000" stroke-width="1.90" fill="none"/>
<rect x="915.30" y="372.60" width="6.60" height="6.40" fill="none" stroke="#000" stroke-width="2.80"/>
<path d="M914.50 371.80L913.40 370.70M922.70 371.80L923.80 370.70M914.50 379.80L913.40 380.90M922.70 379.80L923.80 380.90" stroke="#000" stroke-width="1.80" fill="none"/>
<circle cx="877.20" cy="366.60" r="5.65" fill="none" stroke="#000" stroke-width="2.70"/>
<path d="M869.30 380.00 L887.30 380.00 L881.30 370.00 L873.30 370.00 Z"/>
<rect fill="#fff" x="873.10" y="378.00" width="1" height="1"/>
<rect fill="#fff" x="876.90" y="377.80" width="1" height="1"/>
<rect fill="#fff" x="880.90" y="377.90" width="1" height="1"/>
<rect fill="#fff" x="884.10" y="378.00" width="1" height="1"/>
<rect fill="#fff" x="881.30" y="375.00" width="1" height="1"/>
<path d="M875.80 389.70 L884.00 389.70 L886.40 391.00 L888.80 393.10 L888.80 395.80 L887.40 396.80 L887.40 400.80 L886.70 401.80 L872.70 401.80 L872.00 400.80 L872.00 396.30 L871.00 395.80 L871.00 393.80 L872.70 392.10 Z"/>
<ellipse fill="#fff" cx="874.60" cy="396.80" rx="1.40" ry="2.20"/>
<ellipse fill="#fff" cx="885.00" cy="396.20" rx="1.30" ry="2.20"/>
<ellipse fill="#fff" cx="880.40" cy="396.30" rx="1.20" ry="1.10"/>
<rect x="504" y="108" width="1.2" height="1.2"/>
<rect x="501" y="251" width="1.2" height="1.2"/>
</g>
</svg>
</body></html>
